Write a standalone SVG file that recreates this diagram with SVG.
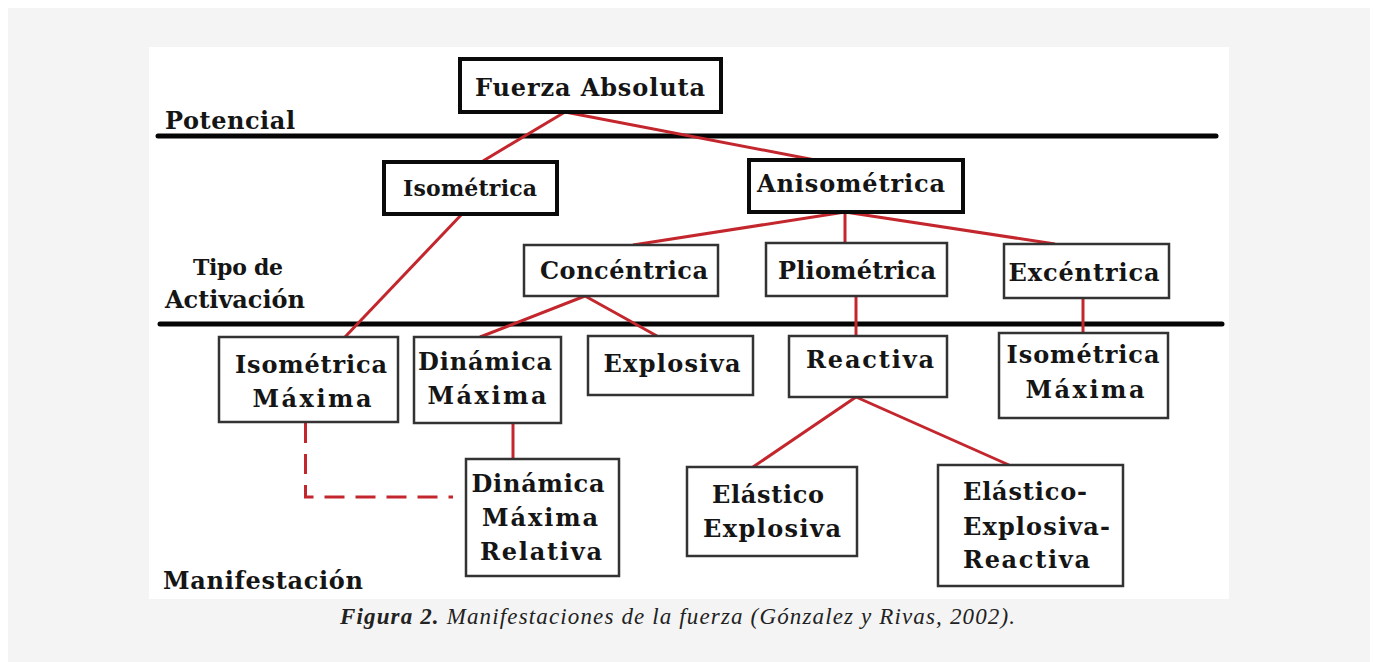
<svg xmlns="http://www.w3.org/2000/svg" width="1375" height="662" viewBox="0 0 1375 662">
<style>
.t{font-family:"DejaVu Serif","Liberation Serif",serif;font-weight:bold;font-size:24px;fill:#151515}
.c{text-anchor:middle}
.bx{fill:#fff;stroke:#333;stroke-width:2.5}
.bk{fill:#fff;stroke:#0a0a0a;stroke-width:4}
.ln{stroke:#c3272d;stroke-width:3;fill:none}
.rule{stroke:#050505;stroke-width:5;stroke-linecap:round}
.cap{font-family:"Liberation Serif","DejaVu Serif",serif;font-style:italic;font-size:23px;fill:#222}
</style>
<rect x="0" y="0" width="1375" height="662" fill="#fff"/>
<rect x="8" y="8" width="1362" height="654" fill="#f4f4f4"/>
<rect x="149" y="47" width="1080" height="552" fill="#fff"/>

<g id="levels">
<line class="rule" x1="158" y1="136" x2="1216" y2="136"/>
<line class="rule" x1="160" y1="324" x2="1222" y2="324"/>
<text class="t" x="165" y="129" textLength="130">Potencial</text>
<text class="t" x="193" y="275" textLength="90" style="font-size:22px">Tipo de</text>
<text class="t" x="165" y="308" textLength="140">Activación</text>
<text class="t" x="163" y="589" textLength="200">Manifestación</text>
</g>

<g id="connectors">
<line class="ln" x1="565" y1="112" x2="483" y2="161"/>
<line class="ln" x1="565" y1="112" x2="815" y2="160"/>
<line class="ln" x1="462" y1="214" x2="345" y2="337"/>
<line class="ln" x1="845" y1="212" x2="633" y2="245"/>
<line class="ln" x1="845" y1="212" x2="845" y2="243"/>
<line class="ln" x1="845" y1="212" x2="1055" y2="244"/>
<line class="ln" x1="585" y1="296" x2="480" y2="337"/>
<line class="ln" x1="585" y1="296" x2="657" y2="336"/>
<line class="ln" x1="856" y1="296" x2="856" y2="336"/>
<line class="ln" x1="1083" y1="298" x2="1083" y2="333"/>
<line class="ln" x1="513" y1="423" x2="513" y2="459"/>
<line class="ln" x1="856" y1="397" x2="753" y2="467"/>
<line class="ln" x1="856" y1="397" x2="1009" y2="465"/>
<path class="ln" d="M305.5 423 V497 H453" stroke-dasharray="20 11"/>
</g>

<g id="fuerza-absoluta">
<rect class="bk" x="460" y="59" width="261" height="53"/>
<text class="t c" x="590" y="96" textLength="230">Fuerza Absoluta</text>
</g>
<g id="isometrica">
<rect class="bk" x="384" y="162" width="173" height="52"/>
<text class="t c" x="470" y="196" textLength="134" style="font-size:22px">Isométrica</text>
</g>
<g id="anisometrica">
<rect class="bk" x="749" y="160" width="214" height="52"/>
<text class="t c" x="851" y="192" textLength="188">Anisométrica</text>
</g>
<g id="concentrica">
<rect class="bx" x="524" y="245" width="194" height="51"/>
<text class="t c" x="624" y="279" textLength="168">Concéntrica</text>
</g>
<g id="pliometrica">
<rect class="bx" x="766" y="243" width="181" height="53"/>
<text class="t c" x="857" y="279" textLength="158">Pliométrica</text>
</g>
<g id="excentrica">
<rect class="bx" x="1004" y="244" width="165" height="54"/>
<text class="t c" x="1084" y="281" textLength="151">Excéntrica</text>
</g>
<g id="isometrica-maxima-1">
<rect class="bx" x="219" y="337" width="179" height="85"/>
<text class="t c" x="311" y="373" textLength="152">Isométrica</text>
<text class="t c" x="312" y="407" textLength="119">Máxima</text>
</g>
<g id="dinamica-maxima">
<rect class="bx" x="414" y="337" width="147" height="86"/>
<text class="t c" x="485" y="370" textLength="134">Dinámica</text>
<text class="t c" x="487" y="404" textLength="119">Máxima</text>
</g>
<g id="explosiva">
<rect class="bx" x="588" y="336" width="165" height="59"/>
<text class="t c" x="672" y="372" textLength="137">Explosiva</text>
</g>
<g id="reactiva">
<rect class="bx" x="789" y="336" width="158" height="61"/>
<text class="t c" x="870" y="368" textLength="128">Reactiva</text>
</g>
<g id="isometrica-maxima-2">
<rect class="bx" x="999" y="333" width="169" height="85"/>
<text class="t c" x="1083" y="363" textLength="153">Isométrica</text>
<text class="t c" x="1085" y="398" textLength="119">Máxima</text>
</g>
<g id="dinamica-maxima-relativa">
<rect class="bx" x="466" y="459" width="153" height="117"/>
<text class="t c" x="538" y="492" textLength="133">Dinámica</text>
<text class="t c" x="540" y="526" textLength="116">Máxima</text>
<text class="t c" x="541" y="560" textLength="122">Relativa</text>
</g>
<g id="elastico-explosiva">
<rect class="bx" x="687" y="467" width="170" height="89"/>
<text class="t c" x="768" y="503" textLength="112">Elástico</text>
<text class="t c" x="772" y="537" textLength="138">Explosiva</text>
</g>
<g id="elastico-explosiva-reactiva">
<rect class="bx" x="938" y="465" width="185" height="121"/>
<text class="t" x="963" y="500" textLength="124">Elástico-</text>
<text class="t" x="963" y="535" textLength="147">Explosiva-</text>
<text class="t" x="963" y="568" textLength="127">Reactiva</text>
</g>

<text class="cap" x="340" y="624" textLength="675"><tspan font-weight="bold">Figura 2.</tspan> Manifestaciones de la fuerza (Gónzalez y Rivas, 2002).</text>
</svg>
